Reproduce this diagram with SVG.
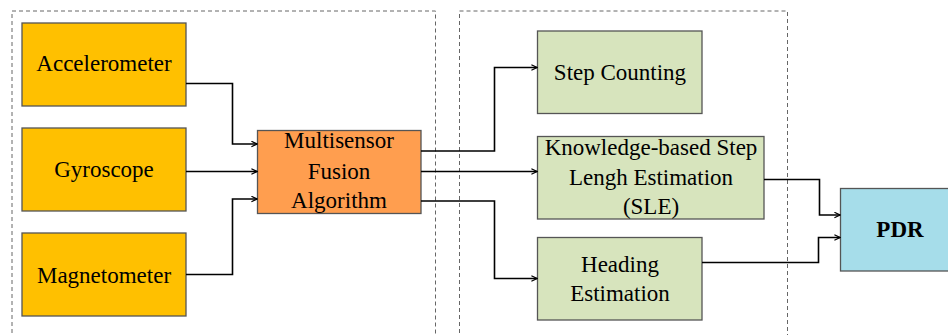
<svg xmlns="http://www.w3.org/2000/svg" width="948" height="335" viewBox="0 0 948 335">
<style>
.t{font-family:"Liberation Serif","Times New Roman",serif;font-size:23px;fill:#000;text-anchor:middle}
.b{font-weight:bold}
.n{stroke:#555;stroke-width:1.3}
.y{fill:#FFC000}
.o{fill:#FF9E4F}
.g{fill:#D7E4BD}
.c{fill:#A6DDEA}
.d{fill:none;stroke:#666;stroke-width:1;stroke-dasharray:4,3}
.e{fill:none;stroke:#000;stroke-width:1.6}
</style>
<defs>
<marker id="a" viewBox="0 0 10 10" refX="9" refY="5" markerWidth="7" markerHeight="7" markerUnits="userSpaceOnUse" orient="auto">
<path d="M1,1 L9,5 L1,9" fill="none" stroke="#000" stroke-width="1.6"/>
</marker>
</defs>
<rect width="948" height="335" fill="#fff"/>
<g id="groups">
<path class="d" d="M12,340 V11 H435.5 V340"/>
<path class="d" d="M459.5,340 V11 H787.5 V340"/>
</g>
<g id="accelerometer"><rect class="n y" x="22" y="23" width="164" height="83"/><text class="t" x="104" y="71">Accelerometer</text></g>
<g id="gyroscope"><rect class="n y" x="22" y="128" width="164" height="83"/><text class="t" x="104" y="177">Gyroscope</text></g>
<g id="magnetometer"><rect class="n y" x="22" y="233" width="164" height="83"/><text class="t" x="104" y="283">Magnetometer</text></g>
<g id="fusion"><rect class="n o" x="257.5" y="130.5" width="163.5" height="83"/><text class="t" x="339" y="148">Multisensor</text><text class="t" x="339" y="179">Fusion</text><text class="t" x="339" y="208">Algorithm</text></g>
<g id="step"><rect class="n g" x="537.5" y="31" width="164.5" height="82.5"/><text class="t" x="620" y="80">Step Counting</text></g>
<g id="sle"><rect class="n g" x="537.5" y="136.5" width="226.5" height="82.5"/><text class="t" x="651" y="155">Knowledge-based Step</text><text class="t" x="651" y="185">Lengh Estimation</text><text class="t" x="651" y="214">(SLE)</text></g>
<g id="heading"><rect class="n g" x="537.5" y="237.5" width="164.5" height="82.5"/><text class="t" x="620" y="272">Heading</text><text class="t" x="620" y="301">Estimation</text></g>
<g id="pdr"><rect class="n c" x="840.5" y="188.5" width="110" height="82.5"/><text class="t b" x="900" y="237">PDR</text></g>
<g id="connectors">
<path class="e" marker-end="url(#a)" d="M186,83.5 H232.5 V144 H257"/>
<path class="e" marker-end="url(#a)" d="M186,171.5 H257"/>
<path class="e" marker-end="url(#a)" d="M186,274.5 H232.5 V199 H257"/>
<path class="e" marker-end="url(#a)" d="M421,151 H494.5 V67.5 H537"/>
<path class="e" marker-end="url(#a)" d="M421,171.5 H537"/>
<path class="e" marker-end="url(#a)" d="M421,201 H494.5 V278.5 H537"/>
<path class="e" marker-end="url(#a)" d="M764,179.5 H819.5 V215 H840"/>
<path class="e" marker-end="url(#a)" d="M702,262.5 H818.5 V237.5 H840"/>
</g>
</svg>
